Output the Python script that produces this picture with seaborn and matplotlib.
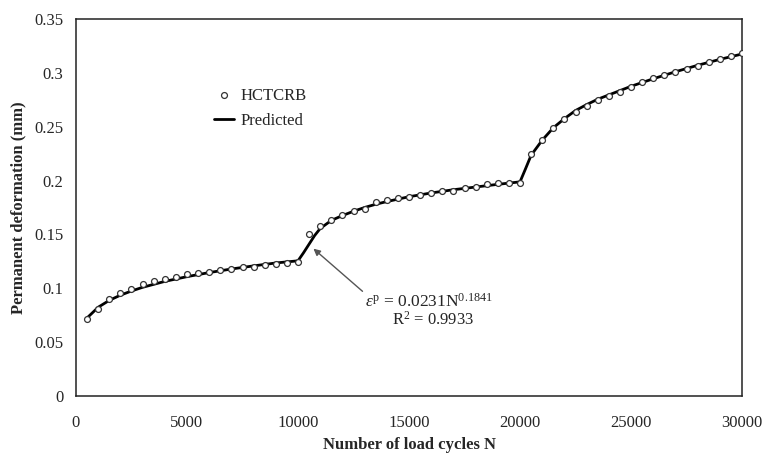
import matplotlib
matplotlib.use("Agg")
import matplotlib.pyplot as plt
import seaborn as sns
import pandas as pd

# medições (ciclos de carga e deformação permanente)
ciclos = [500, 1000, 1500, 2000, 2500, 3000, 3500, 4000, 4500, 5000,
          5500, 6000, 6500, 7000, 7500, 8000, 8500, 9000, 9500, 10000,
          10500, 11000, 11500, 12000, 12500, 13000, 13500, 14000, 14500, 15000,
          15500, 16000, 16500, 17000, 17500, 18000, 18500, 19000, 19500, 20000,
          20500, 21000, 21500, 22000, 22500, 23000, 23500, 24000, 24500, 25000,
          25500, 26000, 26500, 27000, 27500, 28000, 28500, 29000, 29500, 30000]
medido = [0.0712, 0.081, 0.0897, 0.0953, 0.0993, 0.1037, 0.1068, 0.1086, 0.1108, 0.1133,
          0.1139, 0.1154, 0.117, 0.1176, 0.1195, 0.120, 0.1216, 0.1223, 0.1232, 0.124,
          0.150, 0.158, 0.163, 0.168, 0.1718, 0.174, 0.180, 0.182, 0.1835, 0.185,
          0.187, 0.188, 0.190, 0.1906, 0.1934, 0.1943, 0.1965, 0.1975, 0.198, 0.198,
          0.2244, 0.2377, 0.2485, 0.2572, 0.264, 0.269, 0.2748, 0.2788, 0.2826, 0.2866,
          0.2912, 0.295, 0.298, 0.301, 0.3036, 0.3067, 0.3098, 0.3129, 0.3157, 0.318]

# curva prevista
ciclos_prev = [500, 1000, 1500, 2000, 2500, 3000, 4000, 5000, 6000, 7000, 8000, 9000, 10000,
               10250, 10500, 10750, 11000, 11500, 12000, 12500, 13000, 13500, 14000, 15000,
               16000, 17000, 18000, 19000, 20000,
               20250, 20500, 21000, 21500, 22000, 22500, 23000, 23500, 24000, 25000,
               26000, 27000, 28000, 29000, 30000]
previsto = [0.0725, 0.0824, 0.0888, 0.0936, 0.0975, 0.1009, 0.1064, 0.1108, 0.1146, 0.1179, 0.1208, 0.1235, 0.1255,
            0.133, 0.141, 0.149, 0.1555, 0.163, 0.1675, 0.1715, 0.175, 0.178, 0.1805, 0.185,
            0.1885, 0.1915, 0.194, 0.1965, 0.1988,
            0.211, 0.2235, 0.2375, 0.249, 0.2575, 0.265, 0.2705, 0.2755, 0.2795, 0.2875,
            0.2945, 0.301, 0.307, 0.3125, 0.3175]

df_med = pd.DataFrame({'N': ciclos, 'def': medido})
df_prev = pd.DataFrame({'N': ciclos_prev, 'def': previsto})

sns.set_style("white")
plt.rcParams['font.family'] = ['Liberation Serif', 'DejaVu Serif']
plt.rcParams['mathtext.fontset'] = 'custom'
plt.rcParams['mathtext.rm'] = 'Liberation Serif'
plt.rcParams['mathtext.it'] = 'Liberation Serif:italic'

fig = plt.figure(figsize=(7.63, 4.61), dpi=100)
ax = fig.add_axes([0.0996, 0.141, 0.8729, 0.8178])

sns.lineplot(data=df_prev, x='N', y='def', color='black', linewidth=2,
             label='Predicted', ax=ax, zorder=2)
sns.scatterplot(data=df_med, x='N', y='def', marker='o', s=18,
                facecolor='white', edgecolor='#333333', linewidth=0.9,
                label='HCTCRB', ax=ax, zorder=3)

ax.set_xlim(0, 30000)
ax.set_ylim(0, 0.35)
ax.set_xticks(range(0, 30001, 5000))
ax.set_yticks([0, 0.05, 0.1, 0.15, 0.2, 0.25, 0.3, 0.35])
ax.set_yticklabels(['0', '0.05', '0.1', '0.15', '0.2', '0.25', '0.3', '0.35'])
ax.tick_params(labelsize=12, length=0)
ax.tick_params(axis='x', pad=14)
ax.tick_params(axis='y', pad=9)

for s in ax.spines.values():
    s.set_color('#222222')
    s.set_linewidth(1.1)

ax.set_xlabel('Number of load cycles N', fontsize=12, fontweight='bold', labelpad=4)
ax.set_ylabel('Permanent deformation (mm)', fontsize=12, fontweight='bold', labelpad=6)

# legenda: ponto primeiro, depois a linha
h, l = ax.get_legend_handles_labels()
ordem = [l.index('HCTCRB'), l.index('Predicted')]
leg = ax.legend([h[i] for i in ordem], [l[i] for i in ordem],
                loc='upper left', bbox_to_anchor=(0.197, 0.835), fontsize=12,
                frameon=False, handlelength=1.2, handletextpad=0.4,
                borderaxespad=0, labelspacing=0.55)

# equação com seta
ax.annotate('', xy=(10600, 0.1385), xytext=(13000, 0.0955),
            arrowprops=dict(arrowstyle='-|>', color='#555555', lw=1.0,
                            mutation_scale=10))
ax.text(13000, 0.0875, r'$\varepsilon^{\mathrm{p}}$ = 0.0231N$^{0.1841}$',
        fontsize=12.5, ha='left', va='center')
ax.text(14250, 0.0705, r'R$^{2}$ = 0.9933', fontsize=12, ha='left', va='center')

plt.savefig('out.png', dpi=100)
